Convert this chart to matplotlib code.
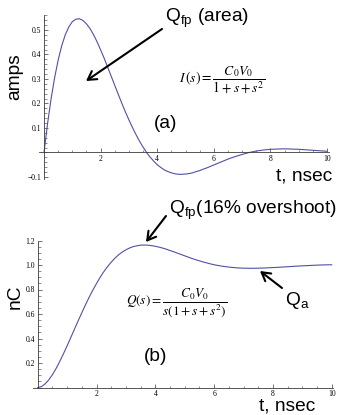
import matplotlib
matplotlib.use("Agg")
import matplotlib.pyplot as plt
from matplotlib.ticker import MultipleLocator

plt.rcParams['mathtext.fontset'] = 'custom'
plt.rcParams['mathtext.rm'] = 'Liberation Sans'
plt.rcParams['mathtext.it'] = 'Liberation Sans:italic'
plt.rcParams['font.family'] = ['Liberation Sans', 'DejaVu Sans']

# time samples (nsec)
t = [0.0, 0.125, 0.25, 0.375, 0.5, 0.625, 0.75, 0.875, 1.0, 1.125, 1.25, 1.375,
     1.5, 1.625, 1.75, 1.875, 2.0, 2.125, 2.25, 2.375, 2.5, 2.625, 2.75, 2.875,
     3.0, 3.125, 3.25, 3.375, 3.5, 3.625, 3.75, 3.875, 4.0, 4.125, 4.25, 4.375,
     4.5, 4.625, 4.75, 4.875, 5.0, 5.125, 5.25, 5.375, 5.5, 5.625, 5.75, 5.875,
     6.0, 6.25, 6.5, 6.75, 7.0, 7.25, 7.5, 7.75, 8.0, 8.25, 8.5, 8.75, 9.0, 9.25,
     9.5, 9.75, 10.0]

# (a) current, amps
current = [0.000, 0.117, 0.219, 0.305, 0.377, 0.435, 0.480, 0.512, 0.534, 0.544,
           0.546, 0.539, 0.525, 0.506, 0.481, 0.452, 0.419, 0.385, 0.348, 0.311,
           0.274, 0.237, 0.201, 0.166, 0.133, 0.102, 0.073, 0.046, 0.022, 0.000,
           -0.019, -0.035, -0.050, -0.061, -0.071, -0.078, -0.083, -0.087, -0.089, -0.089,
           -0.088, -0.086, -0.083, -0.078, -0.074, -0.068, -0.063, -0.057, -0.051,
           -0.039, -0.027, -0.017, -0.008, -0.000, 0.006, 0.010, 0.013, 0.014, 0.015,
           0.014, 0.013, 0.011, 0.009, 0.007, 0.005]

# (b) charge, nC
charge = [0.000, 0.007, 0.029, 0.062, 0.104, 0.155, 0.213, 0.275, 0.340, 0.408,
          0.476, 0.544, 0.610, 0.675, 0.737, 0.795, 0.849, 0.900, 0.946, 0.987,
          1.023, 1.055, 1.083, 1.106, 1.124, 1.139, 1.150, 1.157, 1.162, 1.163,
          1.162, 1.158, 1.153, 1.146, 1.138, 1.129, 1.118, 1.108, 1.097, 1.086,
          1.075, 1.064, 1.053, 1.043, 1.034, 1.025, 1.017, 1.009, 1.002,
          0.991, 0.983, 0.977, 0.974, 0.973, 0.974, 0.976, 0.979, 0.982, 0.986,
          0.990, 0.993, 0.996, 0.999, 1.001, 1.002]

x_ticks = [2, 4, 6, 8, 10]
x_ticklabels = ['2', '4', '6', '8', '10']
ya_ticks = [-0.1, 0.1, 0.2, 0.3, 0.4, 0.5]
ya_ticklabels = ['\u22120.1', '0.1', '0.2', '0.3', '0.4', '0.5']
yb_ticks = [0.2, 0.4, 0.6, 0.8, 1.0, 1.2]
yb_ticklabels = ['0.2', '0.4', '0.6', '0.8', '1.0', '1.2']

W, H = 339, 415
fig = plt.figure(figsize=(W / 100, H / 100), dpi=100)

def rect(l, t_, r, b):
    return [l / W, 1 - b / H, (r - l) / W, (b - t_) / H]

def P(x, y):
    return (x / W, 1 - y / H)

line_c = '#5050a8'
axis_c = '#3a3a3a'
tick_font = dict(family='Liberation Serif', size=5.5)

def style(ax, yticks, ylabels, yminor):
    for s in ['top', 'right']:
        ax.spines[s].set_visible(False)
    ax.spines['left'].set_position(('data', 0))
    ax.spines['bottom'].set_position(('data', 0))
    for s in ['left', 'bottom']:
        ax.spines[s].set_color(axis_c)
        ax.spines[s].set_linewidth(0.6)
    ax.set_xticks(x_ticks)
    ax.set_xticklabels(x_ticklabels, fontdict=tick_font)
    ax.set_yticks(yticks)
    ax.set_yticklabels(ylabels, fontdict=tick_font)
    ax.xaxis.set_minor_locator(MultipleLocator(0.5))
    ax.yaxis.set_minor_locator(MultipleLocator(yminor))
    ax.tick_params(which='major', direction='in', length=3.2, width=0.5, color=axis_c, pad=2)
    ax.tick_params(which='minor', direction='in', length=1.8, width=0.4, color=axis_c)
    ax.patch.set_alpha(0)

# ---- (a)
ax1 = fig.add_axes(rect(38.9, 15.3, 329.3, 178.7))
ax1.plot(t, current, color=line_c, lw=0.8)
ax1.set_xlim(-0.18, 10.08)
ax1.set_ylim(-0.107, 0.56)
style(ax1, ya_ticks, ya_ticklabels, 0.02)

# ---- (b)
ax2 = fig.add_axes(rect(33.3, 240.5, 333.2, 387.5))
ax2.plot(t, charge, color=line_c, lw=0.8)
ax2.set_xlim(-0.15, 10.05)
ax2.set_ylim(0, 1.2)
style(ax2, yb_ticks, yb_ticklabels, 0.05)

big = 13.8
fig.text(*P(15, 77), 'amps', rotation=90, ha='center', va='center', fontsize=big)
fig.text(*P(304, 176), 't, nsec', ha='center', va='center', fontsize=big)
fig.text(*P(166, 123), '(a)', ha='center', va='center', fontsize=big)
fig.text(*P(165, 18), r'Q$_{\mathrm{fp}}$ (area)', ha='left', va='center', fontsize=big)
fig.text(*P(179, 80), r'$I\,(s) = \dfrac{C_0V_0}{1+s+s^2}$', ha='left', va='center',
         fontsize=9.8, math_fontfamily='stix')

fig.text(*P(15, 297), 'nC', rotation=90, ha='center', va='center', fontsize=big)
fig.text(*P(287, 406), 't, nsec', ha='center', va='center', fontsize=big)
fig.text(*P(156, 356), '(b)', ha='center', va='center', fontsize=big)
fig.text(*P(169, 210), r'Q$_{\mathrm{fp}}$(16% overshoot)', ha='left', va='center', fontsize=big)
fig.text(*P(285, 300), r'Q$_{\mathrm{a}}$', ha='left', va='center', fontsize=big)
fig.text(*P(126, 303), r'$Q(s) = \dfrac{C_0V_0}{s(1+s+s^2)}$', ha='left', va='center',
         fontsize=9.5, math_fontfamily='stix')

arrow_kw = dict(arrowstyle='->,head_length=0.6,head_width=0.35', color='black', lw=1.5,
                shrinkA=0, shrinkB=0)
for (x0, y0), (x1, y1) in [((162, 29), (86, 81)), ((166, 216), (146, 242)),
                            ((282, 288), (260, 271))]:
    fig.add_artist(matplotlib.patches.FancyArrowPatch(P(x0, y0), P(x1, y1),
                                                      transform=fig.transFigure, **arrow_kw,
                                                      mutation_scale=10))

fig.savefig('out.png', dpi=100)
